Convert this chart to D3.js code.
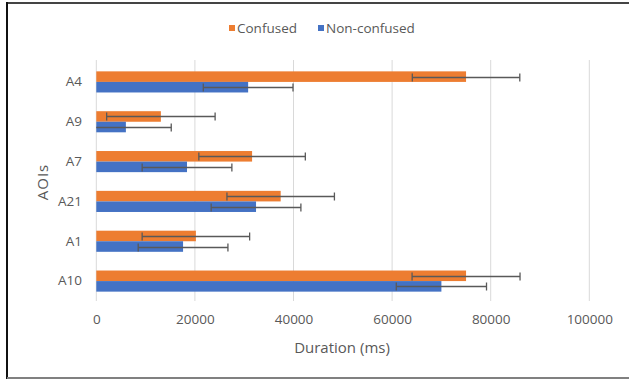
<!DOCTYPE html>
<html>
<head>
<meta charset="utf-8">
<script src="https://cdn.jsdelivr.net/npm/d3@7"></script>
<style>
  body { margin: 0; background: #fff; }
  text { font-family: "Open Sans", "Noto Sans", sans-serif; fill: #595959; }
</style>
</head>
<body>
<script>
// data
var aois = ["A4", "A9", "A7", "A21", "A1", "A10"];
var confused = [75000, 13100, 31600, 37400, 20200, 75000];
var confusedErr = [10900, 11000, 10800, 10900, 10900, 10950];
var nonConfused = [30800, 6000, 18400, 32400, 17600, 70000];
var nonConfusedErr = [9100, 9200, 9100, 9100, 9100, 9150];
var xTicks = [0, 20000, 40000, 60000, 80000, 100000];
var seriesNames = ["Confused", "Non-confused"];
var colors = ["#ED7D31", "#4472C4"];

var W = 629, H = 379;
var svg = d3.select("body").append("svg")
    .attr("width", W)
    .attr("height", H);

// frame
svg.append("rect").attr("x", 0).attr("y", 0).attr("width", W).attr("height", H).attr("fill", "#fff");
svg.append("line").attr("x1", 7).attr("x2", W).attr("y1", 3).attr("y2", 3)
    .attr("stroke", "#444").attr("stroke-width", 2);
svg.append("line").attr("x1", 7).attr("x2", 7).attr("y1", 2).attr("y2", 379)
    .attr("stroke", "#111").attr("stroke-width", 2);
svg.append("line").attr("x1", 7).attr("x2", W).attr("y1", 378).attr("y2", 378)
    .attr("stroke", "#808080").attr("stroke-width", 2);

var x = d3.scaleLinear().domain([0, 100000]).range([96.3, 589.3]);
var y = d3.scaleBand().domain(aois).range([62, 301])
    .paddingInner(0.47).paddingOuter(0.235);
var barH = y.bandwidth() / 2;

// gridlines
svg.append("g").selectAll("line").data(xTicks).enter().append("line")
    .attr("x1", function (d) { return x(d) }).attr("x2", function (d) { return x(d) })
    .attr("y1", 60).attr("y2", 301)
    .attr("stroke", "#d9d9d9").attr("stroke-width", 1);

// x tick labels
var xAxis = svg.append("g")
    .attr("transform", "translate(0,301)")
    .call(d3.axisBottom(x).tickValues(xTicks).tickFormat(d3.format("d")).tickSize(0).tickPadding(13));
xAxis.select(".domain").remove();
xAxis.selectAll("text").style("font-size", "13.5px").attr("fill", "#595959");

// y tick labels
var yAxis = svg.append("g")
    .attr("transform", "translate(96,0)")
    .call(d3.axisLeft(y).tickSize(0).tickPadding(14));
yAxis.select(".domain").remove();
yAxis.selectAll("text").style("font-size", "13.5px").attr("fill", "#595959");

// series
var series = [
    { vals: confused, errs: confusedErr, off: 0 },
    { vals: nonConfused, errs: nonConfusedErr, off: 1 }
];

series.forEach(function (s, i) {
    var g = svg.append("g");
    g.selectAll("rect").data(aois).enter().append("rect")
        .attr("x", x(0))
        .attr("y", function (d) { return y(d) + s.off * barH })
        .attr("width", function (d, j) { return x(s.vals[j]) - x(0) })
        .attr("height", barH)
        .attr("fill", colors[i]);
});

// error bars on top
series.forEach(function (s, i) {
    var g = svg.append("g").attr("stroke", "#595959").attr("stroke-width", 1.3);
    aois.forEach(function (d, j) {
        var cy = Math.round(y(d) + s.off * barH + barH / 2) + 0.5;
        var lo = Math.max(0, s.vals[j] - s.errs[j]);
        var hi = s.vals[j] + s.errs[j];
        g.append("line").attr("x1", x(lo)).attr("x2", x(hi)).attr("y1", cy).attr("y2", cy);
        if (s.vals[j] - s.errs[j] > 0) {
            g.append("line").attr("x1", x(lo)).attr("x2", x(lo)).attr("y1", cy - 4).attr("y2", cy + 4);
        }
        g.append("line").attr("x1", x(hi)).attr("x2", x(hi)).attr("y1", cy - 4).attr("y2", cy + 4);
    });
});

// axis titles
svg.append("text")
    .attr("x", 342).attr("y", 353)
    .attr("text-anchor", "middle")
    .style("font-size", "15px")
    .text("Duration (ms)");
svg.append("text")
    .attr("transform", "translate(48,182) rotate(-90)")
    .attr("text-anchor", "middle")
    .style("font-size", "15px")
    .style("letter-spacing", "1px")
    .text("AOIs");

// legend
var legX = [229, 318];
seriesNames.forEach(function (name, i) {
    svg.append("rect").attr("x", legX[i]).attr("y", 25).attr("width", 6).attr("height", 6)
        .attr("fill", colors[i]);
    svg.append("text").attr("x", legX[i] + 8).attr("y", 33)
        .style("font-size", "13.5px")
        .text(name);
});
</script>
</body>
</html>
